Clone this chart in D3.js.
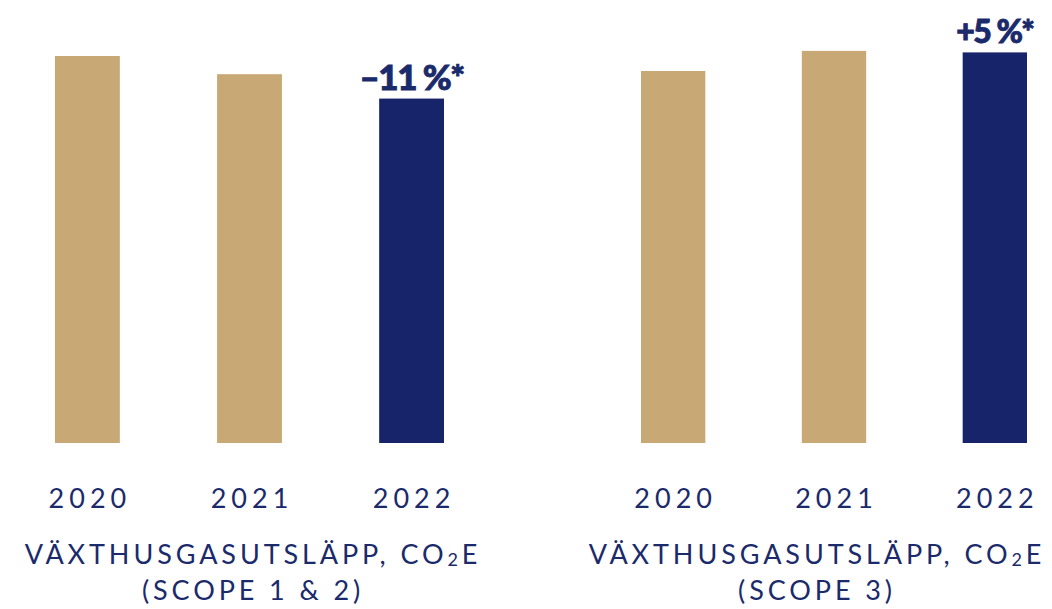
<!DOCTYPE html>
<html lang="sv">
<head>
<meta charset="utf-8">
<script src="https://cdn.jsdelivr.net/npm/d3@7"></script>
<style>
  html, body { margin: 0; padding: 0; background: #ffffff; }
  svg { display: block; }
  text { font-family: Lato, "Open Sans", sans-serif; fill: #1b2a6b; }
</style>
</head>
<body>
<svg id="chart" width="1052" height="609"></svg>
<script>
// Emission index per year (2020 = 100)
const years = ["2020", "2021", "2022"];
const scope12 = [100, 95.3, 89];
const scope3 = [100, 105.4, 105];
const titlesScope12 = ["VÄXTHUSGASUTSLÄPP, CO|2|E", "(SCOPE 1 & 2)"];
const titlesScope3 = ["VÄXTHUSGASUTSLÄPP, CO|2|E", "(SCOPE 3)"];

const tan = "#c8a875";
const navy = "#172469";
const baseline = 443;

const svg = d3.select("#chart");

const panels = [
  { values: scope12, titles: titlesScope12, x0: 55, x1: 444, yTop: 56, titleX: 253, labelSize: 35 },
  { values: scope3, titles: titlesScope3, x0: 641, x1: 1027, yTop: 71, titleX: 817, labelSize: 32 }
];

function changeLabel(v) {
  const pct = Math.round((v[v.length - 1] / v[0] - 1) * 100);
  return (pct < 0 ? "\u2013" : "+") + Math.abs(pct) + " %*";
}

panels.forEach(p => {
  const x = d3.scaleBand().domain(years).range([p.x0, p.x1]).paddingInner(0.6).paddingOuter(0);
  const y = d3.scaleLinear().domain([0, 100]).range([baseline, p.yTop]);
  const g = svg.append("g");

  const data = years.map((yr, i) => ({ year: yr, value: p.values[i], last: i === years.length - 1 }));

  g.selectAll("rect")
    .data(data)
    .join("rect")
    .attr("x", d => x(d.year))
    .attr("y", d => y(d.value))
    .attr("width", x.bandwidth())
    .attr("height", d => baseline - y(d.value))
    .attr("fill", d => d.last ? navy : tan);

  // change label above the latest bar
  const last = data[data.length - 1];
  g.append("text")
    .attr("x", x(last.year) + x.bandwidth() / 2)
    .attr("y", y(last.value) - 9)
    .attr("text-anchor", "middle")
    .attr("font-size", p.labelSize)
    .attr("font-weight", 900)
    .attr("letter-spacing", -1.5)
    .attr("stroke", "#1b2a6b")
    .attr("stroke-width", 0.9)
    .text(changeLabel(p.values));

  // year axis
  const axis = d3.axisBottom(x).tickSize(0).tickPadding(0);
  const ag = g.append("g").attr("transform", `translate(0, 508)`).call(axis);
  ag.select(".domain").remove();
  ag.selectAll("text")
    .attr("dy", 0)
    .attr("font-size", 27)
    .attr("font-family", "Lato, sans-serif")
    .attr("letter-spacing", 5)
    .attr("fill", navy)
    .attr("dx", 2.5);

  // panel title
  p.titles.forEach((line, li) => {
    const t = g.append("text")
      .attr("x", p.titleX)
      .attr("y", 564 + li * 36)
      .attr("text-anchor", "middle")
      .attr("font-size", 27)
      .attr("letter-spacing", 3.9);
    const parts = line.split("|");
    parts.forEach((part, pi) => {
      const ts = t.append("tspan").text(part);
      if (pi === 1) ts.attr("font-size", 18).attr("dy", 2);
      if (pi === 2) ts.attr("dy", -2);
    });
  });
});
</script>
</body>
</html>
